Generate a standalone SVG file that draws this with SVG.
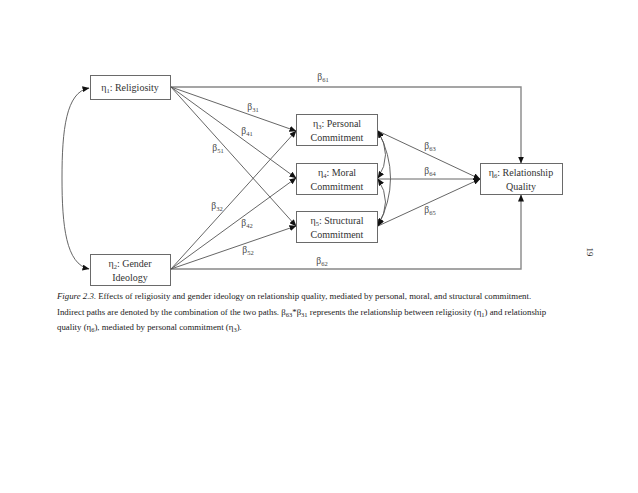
<svg xmlns="http://www.w3.org/2000/svg" width="638" height="493" viewBox="0 0 638 493">
<style>
.box{fill:#fff;stroke:#6a6a6a;stroke-width:1}
.t{font-family:"Liberation Serif","Times New Roman",serif;font-size:10px;fill:#333;text-anchor:middle}
.lb{font-family:"Liberation Serif","Times New Roman",serif;font-size:9.5px;fill:#444;text-anchor:middle}
.cap{font-family:"Liberation Serif","Times New Roman",serif;font-size:8.8px;fill:#222}
.ln{fill:none;stroke:#555;stroke-width:0.9}
.lg{fill:none;stroke:#888;stroke-width:1.4}
.s{font-size:6.5px}
</style>
<defs>
<marker id="ah" markerWidth="7" markerHeight="6" refX="6.5" refY="3" orient="auto-start-reverse" markerUnits="userSpaceOnUse">
<path d="M0,0 L7,3 L0,6 Z" fill="#111"/>
</marker>
</defs>
<rect width="638" height="493" fill="#fff"/>
<g id="connectors">
<path class="lg" d="M171,87 L521,87 L521,163" marker-end="url(#ah)"/>
<path class="lg" d="M171,269 L521,269 L521,195" marker-end="url(#ah)"/>
<path class="ln" d="M89,88 C66,92 62,130 62,178 C62,226 66,264 89,269" marker-start="url(#ah)" marker-end="url(#ah)"/>
<line class="ln" x1="171" y1="87" x2="296" y2="131" marker-end="url(#ah)"/>
<line class="ln" x1="171" y1="87" x2="296" y2="178" marker-end="url(#ah)"/>
<line class="ln" x1="171" y1="87" x2="296" y2="226" marker-end="url(#ah)"/>
<line class="ln" x1="171" y1="269" x2="296" y2="131" marker-end="url(#ah)"/>
<line class="ln" x1="171" y1="269" x2="296" y2="178" marker-end="url(#ah)"/>
<line class="ln" x1="171" y1="269" x2="296" y2="226" marker-end="url(#ah)"/>
<line class="ln" x1="378" y1="131" x2="480" y2="179" marker-end="url(#ah)"/>
<line class="ln" x1="378" y1="179" x2="480" y2="179" marker-end="url(#ah)"/>
<line class="ln" x1="378" y1="226" x2="480" y2="179" marker-end="url(#ah)"/>
<path class="ln" d="M378,131 Q393,155 378,178" marker-start="url(#ah)" marker-end="url(#ah)"/>
<path class="ln" d="M378,179 Q393,202 378,225" marker-start="url(#ah)" marker-end="url(#ah)"/>
<path class="ln" d="M378,131 Q403,178 378,226" marker-start="url(#ah)" marker-end="url(#ah)"/>
</g>
<g id="labels">
<text class="lb" x="253" y="110">β<tspan class="s" dy="2">31</tspan></text>
<text class="lb" x="247" y="134">β<tspan class="s" dy="2">41</tspan></text>
<text class="lb" x="218" y="151">β<tspan class="s" dy="2">51</tspan></text>
<text class="lb" x="217" y="209">β<tspan class="s" dy="2">32</tspan></text>
<text class="lb" x="247" y="226">β<tspan class="s" dy="2">42</tspan></text>
<text class="lb" x="248" y="253">β<tspan class="s" dy="2">52</tspan></text>
<text class="lb" x="323" y="80">β<tspan class="s" dy="2">61</tspan></text>
<text class="lb" x="322" y="264">β<tspan class="s" dy="2">62</tspan></text>
<text class="lb" x="430" y="149">β<tspan class="s" dy="2">63</tspan></text>
<text class="lb" x="430" y="174">β<tspan class="s" dy="2">64</tspan></text>
<text class="lb" x="430" y="213">β<tspan class="s" dy="2">65</tspan></text>
</g>
<g id="eta1">
<rect class="box" x="90.5" y="75.5" width="80" height="24"/>
<text class="t" x="130" y="91">η<tspan class="s" dy="2">1</tspan><tspan dy="-2">:  Religiosity</tspan></text>
</g>
<g id="eta2">
<rect class="box" x="90.5" y="254.5" width="80" height="31"/>
<text class="t" x="130" y="267">η<tspan class="s" dy="2">2</tspan><tspan dy="-2">: Gender</tspan></text>
<text class="t" x="130" y="281">Ideology</text>
</g>
<g id="eta3">
<rect class="box" x="296.5" y="114.5" width="81" height="31"/>
<text class="t" x="337" y="127">η<tspan class="s" dy="2">3</tspan><tspan dy="-2">: Personal</tspan></text>
<text class="t" x="337" y="141">Commitment</text>
</g>
<g id="eta4">
<rect class="box" x="296.5" y="163.5" width="81" height="31"/>
<text class="t" x="337" y="176">η<tspan class="s" dy="2">4</tspan><tspan dy="-2">: Moral</tspan></text>
<text class="t" x="337" y="190">Commitment</text>
</g>
<g id="eta5">
<rect class="box" x="296.5" y="211.5" width="81" height="31"/>
<text class="t" x="337" y="224">η<tspan class="s" dy="2">5</tspan><tspan dy="-2">: Structural</tspan></text>
<text class="t" x="337" y="238">Commitment</text>
</g>
<g id="eta6">
<rect class="box" x="480.5" y="163.5" width="82" height="31"/>
<text class="t" x="521" y="176">η<tspan class="s" dy="2">6</tspan><tspan dy="-2">: Relationship</tspan></text>
<text class="t" x="521" y="190">Quality</text>
</g>
<g id="caption">
<text class="cap" x="57" y="299"><tspan font-style="italic">Figure 2.3</tspan>. Effects of religiosity and gender ideology on relationship quality, mediated by personal, moral, and structural commitment.</text>
<text class="cap" x="57" y="315">Indirect paths are denoted by the combination of the two paths.  β<tspan class="s" dy="1.5">63</tspan><tspan dy="-1.5">*β</tspan><tspan class="s" dy="1.5">31</tspan><tspan dy="-1.5"> represents the relationship between religiosity (η</tspan><tspan class="s" dy="1.5">1</tspan><tspan dy="-1.5">) and relationship</tspan></text>
<text class="cap" x="57" y="330">quality (η<tspan class="s" dy="1.5">6</tspan><tspan dy="-1.5">), mediated by personal commitment (η</tspan><tspan class="s" dy="1.5">3</tspan><tspan dy="-1.5">).</tspan></text>
</g>
<text class="cap" font-size="11" text-anchor="middle" transform="translate(587,252) rotate(90)">19</text>
</svg>
